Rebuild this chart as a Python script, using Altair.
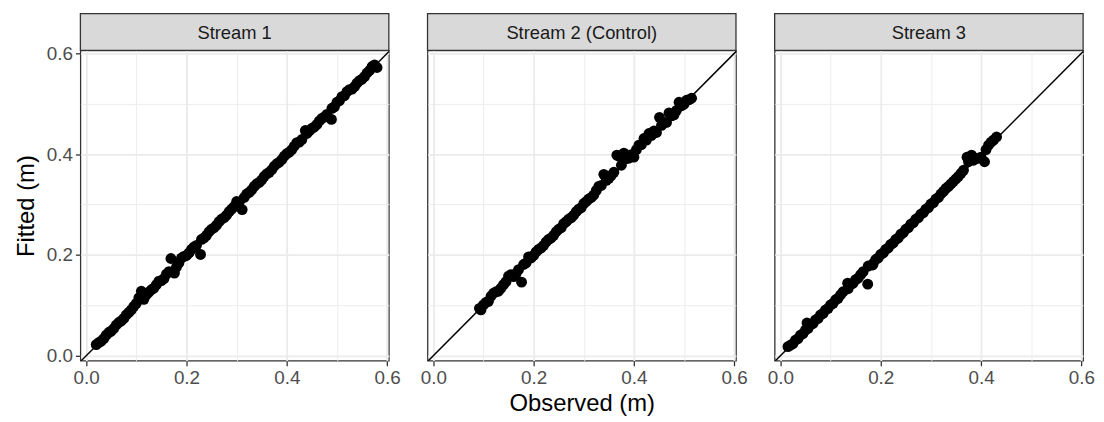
import altair as alt
import pandas as pd

FONT = "Liberation Sans"

streams = ["Stream 1", "Stream 2 (Control)", "Stream 3"]

obs1 = [0.020, 0.025, 0.030, 0.035, 0.040, 0.045, 0.050, 0.055, 0.060, 0.065, 0.070, 0.075,
        0.080, 0.085, 0.090, 0.095, 0.100, 0.105, 0.110, 0.115, 0.120, 0.125, 0.130, 0.135,
        0.140, 0.145, 0.150, 0.155, 0.160, 0.165, 0.169, 0.176, 0.180, 0.185, 0.190, 0.195,
        0.200, 0.205, 0.210, 0.215, 0.220, 0.228, 0.230, 0.235, 0.240, 0.245, 0.250, 0.255,
        0.260, 0.265, 0.270, 0.275, 0.280, 0.285, 0.290, 0.295, 0.300, 0.305, 0.311, 0.315,
        0.320, 0.325, 0.330, 0.335, 0.340, 0.345, 0.350, 0.355, 0.360, 0.365, 0.370, 0.375,
        0.380, 0.385, 0.390, 0.395, 0.400, 0.405, 0.410, 0.415, 0.420, 0.425, 0.430, 0.437,
        0.440, 0.445, 0.450, 0.455, 0.460, 0.465, 0.470, 0.475, 0.480, 0.489, 0.490, 0.495,
        0.500, 0.505, 0.510, 0.515, 0.520, 0.525, 0.530, 0.535, 0.540, 0.545, 0.550, 0.555,
        0.560, 0.565, 0.570, 0.575, 0.580]
fit1 = [0.022, 0.026, 0.029, 0.034, 0.041, 0.046, 0.049, 0.054, 0.061, 0.066, 0.069, 0.074,
        0.081, 0.086, 0.091, 0.098, 0.104, 0.115, 0.128, 0.112, 0.121, 0.126, 0.131, 0.134,
        0.141, 0.148, 0.149, 0.153, 0.162, 0.167, 0.193, 0.164, 0.176, 0.184, 0.194, 0.197,
        0.199, 0.204, 0.211, 0.216, 0.219, 0.201, 0.231, 0.234, 0.239, 0.246, 0.251, 0.254,
        0.259, 0.266, 0.271, 0.274, 0.279, 0.286, 0.291, 0.296, 0.306, 0.304, 0.290, 0.314,
        0.321, 0.324, 0.329, 0.336, 0.341, 0.344, 0.349, 0.356, 0.361, 0.364, 0.369, 0.376,
        0.381, 0.384, 0.389, 0.396, 0.401, 0.404, 0.409, 0.416, 0.423, 0.424, 0.429, 0.447,
        0.441, 0.446, 0.451, 0.454, 0.459, 0.466, 0.471, 0.474, 0.479, 0.469, 0.491, 0.494,
        0.503, 0.506, 0.514, 0.516, 0.524, 0.528, 0.529, 0.534, 0.541, 0.546, 0.549, 0.554,
        0.561, 0.566, 0.574, 0.577, 0.572]

obs2 = [0.092, 0.095, 0.100, 0.105, 0.110, 0.115, 0.120, 0.125, 0.130, 0.135, 0.140, 0.145,
        0.150, 0.155, 0.160, 0.165, 0.170, 0.176, 0.180, 0.185, 0.190, 0.195, 0.200, 0.205,
        0.210, 0.215, 0.220, 0.225, 0.230, 0.235, 0.240, 0.245, 0.250, 0.255, 0.260, 0.265,
        0.270, 0.275, 0.280, 0.285, 0.290, 0.295, 0.300, 0.305, 0.310, 0.315, 0.320, 0.325,
        0.330, 0.335, 0.340, 0.345, 0.350, 0.355, 0.360, 0.366, 0.370, 0.375, 0.380, 0.385,
        0.390, 0.395, 0.400, 0.405, 0.410, 0.415, 0.420, 0.425, 0.430, 0.435, 0.440, 0.445,
        0.451, 0.455, 0.460, 0.465, 0.470, 0.475, 0.480, 0.485, 0.490, 0.495, 0.500, 0.505,
        0.510, 0.515]
fit2 = [0.094, 0.091, 0.101, 0.106, 0.108, 0.118, 0.124, 0.127, 0.128, 0.134, 0.141, 0.147,
        0.158, 0.161, 0.157, 0.163, 0.171, 0.146, 0.181, 0.184, 0.196, 0.194, 0.199, 0.206,
        0.211, 0.214, 0.219, 0.226, 0.231, 0.234, 0.239, 0.246, 0.251, 0.254, 0.262, 0.266,
        0.271, 0.274, 0.279, 0.286, 0.291, 0.294, 0.302, 0.306, 0.311, 0.314, 0.319, 0.328,
        0.336, 0.338, 0.360, 0.348, 0.352, 0.358, 0.364, 0.398, 0.396, 0.378, 0.402, 0.391,
        0.392, 0.399, 0.394, 0.409, 0.418, 0.419, 0.431, 0.428, 0.441, 0.437, 0.446, 0.443,
        0.473, 0.457, 0.462, 0.463, 0.482, 0.476, 0.478, 0.487, 0.503, 0.496, 0.499, 0.507,
        0.508, 0.511]

obs3 = [0.015, 0.020, 0.025, 0.030, 0.035, 0.040, 0.045, 0.050, 0.053, 0.055, 0.060, 0.065,
        0.070, 0.075, 0.080, 0.085, 0.090, 0.095, 0.100, 0.105, 0.110, 0.115, 0.120, 0.125,
        0.134, 0.135, 0.140, 0.145, 0.150, 0.155, 0.160, 0.165, 0.174, 0.175, 0.184, 0.185,
        0.190, 0.195, 0.200, 0.205, 0.210, 0.215, 0.220, 0.225, 0.230, 0.235, 0.240, 0.245,
        0.250, 0.255, 0.260, 0.265, 0.270, 0.275, 0.280, 0.285, 0.290, 0.295, 0.300, 0.305,
        0.310, 0.315, 0.320, 0.325, 0.330, 0.335, 0.340, 0.345, 0.350, 0.355, 0.360, 0.365,
        0.372, 0.375, 0.381, 0.385, 0.390, 0.395, 0.400, 0.407, 0.410, 0.415, 0.420, 0.425,
        0.431]
fit3 = [0.018, 0.021, 0.024, 0.031, 0.034, 0.041, 0.044, 0.051, 0.065, 0.054, 0.061, 0.064,
        0.071, 0.074, 0.081, 0.084, 0.091, 0.094, 0.101, 0.104, 0.111, 0.114, 0.121, 0.127,
        0.144, 0.133, 0.141, 0.144, 0.151, 0.154, 0.161, 0.167, 0.142, 0.178, 0.180, 0.183,
        0.191, 0.194, 0.201, 0.204, 0.211, 0.214, 0.221, 0.224, 0.231, 0.234, 0.241, 0.244,
        0.251, 0.254, 0.261, 0.264, 0.271, 0.274, 0.281, 0.284, 0.291, 0.294, 0.301, 0.304,
        0.311, 0.314, 0.321, 0.326, 0.332, 0.336, 0.341, 0.346, 0.351, 0.356, 0.362, 0.368,
        0.394, 0.385, 0.398, 0.388, 0.391, 0.392, 0.394, 0.385, 0.409, 0.418, 0.424, 0.428,
        0.434]

obs_all = [obs1, obs2, obs3]
fit_all = [fit1, fit2, fit3]

axis_values = [0.0, 0.1, 0.2, 0.3, 0.4, 0.5, 0.6]
x_domain = [-0.0115, 0.6035]
y_domain = [-0.0100, 0.6060]
ref_line = [-0.05, 0.65]

W = 311
H = 313
SH = 37

MAJOR = "round(datum.value * 10) % 2 === 0"
LABEL_EXPR = "round(datum.value * 10) % 2 === 0 ? format(datum.value, '.1f') : ''"


def grid_props():
    return dict(
        values=axis_values,
        grid=True,
        gridColor="#ebebeb",
        gridWidth={"condition": {"test": MAJOR, "value": 1.8}, "value": 0.9},
        domain=False,
    )


def tick_props():
    return dict(
        labelExpr=LABEL_EXPR,
        labelFlush=False,
        labelOverlap=False,
        labelFontSize=19,
        labelColor="#4d4d4d",
        labelPadding=3,
        ticks=True,
        tickSize=5,
        tickWidth=1.3,
        tickColor="#333333",
        tickOpacity={"condition": {"test": MAJOR, "value": 1}, "value": 0},
        titleFontSize=24,
        titleFontWeight="normal",
        titleColor="#000000",
    )


def x_axis(title):
    kw = grid_props()
    kw.update(tick_props())
    kw.update(titlePadding=4, title=title if title else None)
    return alt.Axis(**kw)


def y_axis(show):
    kw = grid_props()
    if show:
        kw.update(tick_props())
        kw.update(title="Fitted (m)", titlePadding=8)
    else:
        kw.update(labels=False, ticks=False, title=None)
    return alt.Axis(**kw)


def panel(i):
    df = pd.DataFrame({"Observed": obs_all[i], "Fitted": fit_all[i]})
    ref_df = pd.DataFrame({"Observed": ref_line, "Fitted": ref_line})
    sdf = pd.DataFrame({"label": [streams[i]]})
    xt = "Observed (m)" if i == 1 else None
    x = alt.X("Observed:Q", scale=alt.Scale(domain=x_domain, nice=False, zero=False),
              axis=x_axis(xt))
    y = alt.Y("Fitted:Q", scale=alt.Scale(domain=y_domain, nice=False, zero=False),
              axis=y_axis(i == 0))
    line = alt.Chart(ref_df).mark_line(color="black", strokeWidth=1.5, clip=True).encode(x=x, y=y)
    pts = alt.Chart(df).mark_circle(size=120, color="black", opacity=1).encode(x=x, y=y)
    strip_bg = alt.Chart(sdf).mark_rect(
        fill="#d9d9d9", stroke="#333333", strokeWidth=1.3
    ).encode(
        x=alt.value(0), x2=alt.value(W), y=alt.value(-SH), y2=alt.value(0)
    )
    strip_txt = alt.Chart(sdf).mark_text(
        fontSize=18.5, color="#1a1a1a", font=FONT
    ).encode(
        text="label:N", x=alt.value(W / 2), y=alt.value(-SH / 2 + 1)
    )
    return alt.layer(line, pts, strip_bg, strip_txt).properties(width=W, height=H)


chart = alt.hconcat(
    panel(0), panel(1), panel(2), spacing=17
).properties(
    padding={"left": 5, "top": 2, "right": 0, "bottom": 0},
    background="white",
).configure(
    font=FONT
).configure_view(
    stroke="#333333", strokeWidth=1.3
)

chart.save("out.html", embed_options={"renderer": "svg", "actions": False})
